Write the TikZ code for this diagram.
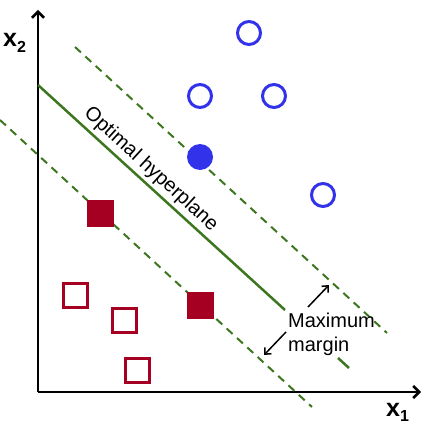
\documentclass[tikz,border=0pt]{standalone}
\usepackage{fontspec}
\setmainfont{Liberation Sans}
\usetikzlibrary{arrows.meta}
\definecolor{cblue}{RGB}{50,50,235}
\definecolor{cred}{RGB}{165,0,33}
\definecolor{cgreen}{RGB}{60,118,30}
\begin{document}
\begin{tikzpicture}[x=1pt,y=-1pt,
  opencirc/.style={circle,draw=cblue,line width=3pt,minimum size=23pt,inner sep=0pt},
  fillcirc/.style={circle,fill=cblue,minimum size=26pt,inner sep=0pt},
  opensq/.style={rectangle,draw=cred,line width=3pt,minimum size=24pt,inner sep=0pt},
  fillsq/.style={rectangle,draw=cred,fill=cred,line width=2pt,minimum size=25pt,inner sep=0pt},
  axis/.style={line width=2.5pt,-{Straight Barb[length=6pt,width=12pt,line width=2.5pt]}},
  hyper/.style={cgreen,line width=2.5pt},
  marginline/.style={cgreen,line width=2pt,dash pattern=on 8pt off 6pt},
  marrow/.style={line width=1.5pt,-{Straight Barb[length=5pt,width=9pt,line width=1.5pt]}},
  lbl/.style={font=\fontsize{20}{24}\selectfont,inner sep=0pt,text=black}
]
\useasboundingbox (0,0) rectangle (430,425);
% axes
\coordinate (O) at (38,392);
\coordinate (ytop) at (38,10);
\coordinate (xend) at (421,392);
\draw[axis] (O) -- (ytop);
\draw[axis] (O) -- (xend);
\node[anchor=base west,inner sep=0pt] (x2) at (3,47) {\fontsize{25}{25}\selectfont\bfseries x\raisebox{-6pt}{\fontsize{16}{16}\selectfont 2}};
\node[anchor=base west,inner sep=0pt] (x1) at (386,416) {\fontsize{25}{25}\selectfont\bfseries x\raisebox{-5pt}{\fontsize{16}{16}\selectfont 1}};
% margin lines
\coordinate (u1) at (75,47);
\coordinate (u2) at (387,333);
\coordinate (l1) at (0,120);
\coordinate (l2) at (312,407);
\draw[marginline] (u1) -- (u2);
\draw[marginline] (l1) -- (l2);
% hyperplane
\coordinate (h1) at (38,85);
\coordinate (h2) at (285,310);
\coordinate (h3) at (338,358);
\coordinate (h4) at (349,368);
\draw[hyper] (h1) -- node[pos=0.42,sloped,above,lbl,inner sep=3pt] (opt) {Optimal hyperplane} (h2);
\draw[hyper] (h3) -- (h4);
% points
\node[opencirc] (c1) at (249,33) {};
\node[opencirc] (c2) at (200,96) {};
\node[opencirc] (c3) at (274,96) {};
\node[opencirc] (c4) at (323,195) {};
\node[fillcirc] (c5) at (200,157) {};
\node[fillsq] (s1) at (100,213) {};
\node[fillsq] (s2) at (200,305) {};
\node[opensq] (s3) at (75,295) {};
\node[opensq] (s4) at (124,320) {};
\node[opensq] (s5) at (137,370) {};
% margin label
\node[lbl,anchor=base west] (mx) at (288,327) {Maximum};
\node[lbl,anchor=base west] (mg) at (288,351) {margin};
\coordinate (a1s) at (308,307);
\coordinate (a1e) at (329,285);
\coordinate (a2s) at (286,332);
\coordinate (a2e) at (264,355);
\draw[marrow] (a1s) -- (a1e);
\draw[marrow] (a2s) -- (a2e);
\end{tikzpicture}
\end{document}
